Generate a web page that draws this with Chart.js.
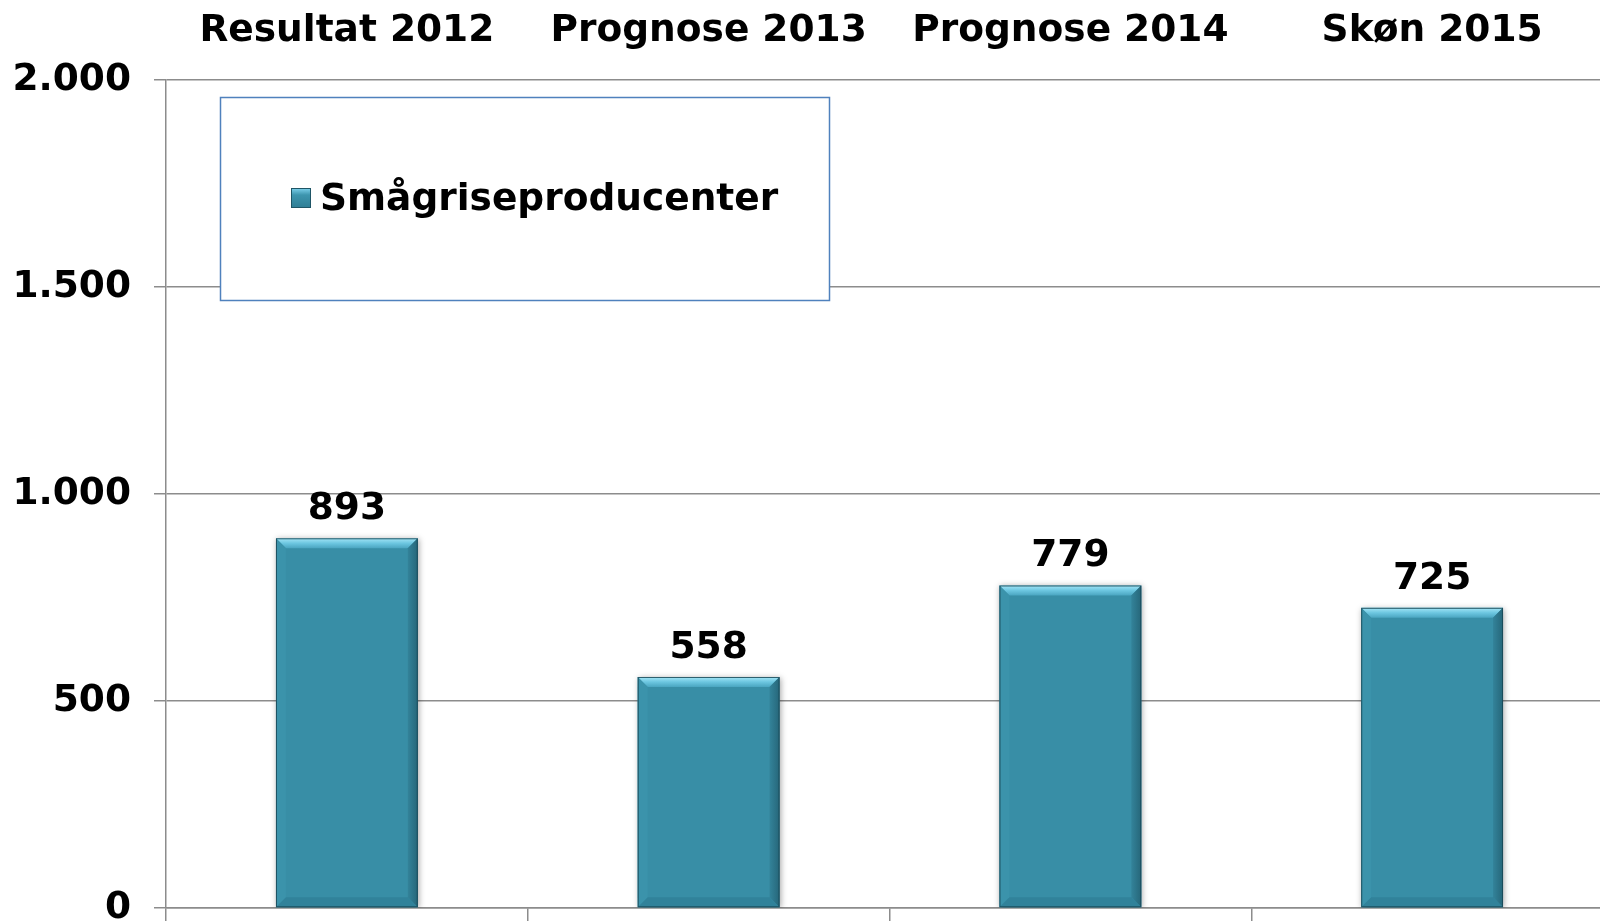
<!DOCTYPE html>
<html>
<head>
<meta charset="utf-8">
<script src="https://cdn.jsdelivr.net/npm/chart.js@4/dist/chart.umd.min.js"></script>
<style>
  html, body { margin: 0; padding: 0; background: #ffffff; overflow: hidden; width: 1600px; height: 922px; }
  #c { display: block; }
</style>
</head>
<body>
<canvas id="c" width="1620" height="922" style="width:1620px;height:922px;"></canvas>
<script>
// ---- data ----
const categories = ["Resultat 2012", "Prognose 2013", "Prognose 2014", "Skøn 2015"];
const seriesName = "Smågriseproducenter";
const values = [893, 558, 779, 725];
const yTicks = [0, 500, 1000, 1500, 2000];

const FONT = "'DejaVu Sans', Verdana, sans-serif";
const FS = 37.5;
const GRID = "#8c8c8c";
const BAR = "#388ea6";

function fmt(v) {
  return String(v).replace(/\B(?=(\d{3})+(?!\d))/g, ".");
}

const shadowPlugin = {
  id: "barShadow",
  beforeDatasetsDraw(chart) {
    const ctx = chart.ctx;
    ctx.save();
    ctx.shadowColor = "rgba(0,0,0,0.35)";
    ctx.shadowBlur = 6;
    ctx.shadowOffsetX = 1;
    ctx.shadowOffsetY = 1;
  },
  afterDatasetsDraw(chart) {
    chart.ctx.restore();
    const ctx = chart.ctx;
    const meta = chart.getDatasetMeta(0);
    meta.data.forEach((el) => {
      const w = el.width;
      const L = el.x - w / 2, R = el.x + w / 2, T = el.y, B = el.base;
      const b = 10;
      ctx.save();
      // top bevel
      let g = ctx.createLinearGradient(0, T, 0, T + b);
      g.addColorStop(0, "#a4e6f7");
      g.addColorStop(0.5, "#6cc6e0");
      g.addColorStop(1, "#4aa5c0");
      ctx.fillStyle = g;
      ctx.beginPath();
      ctx.moveTo(L, T); ctx.lineTo(R, T); ctx.lineTo(R - b, T + b); ctx.lineTo(L + b, T + b); ctx.closePath();
      ctx.fill();
      // right bevel
      g = ctx.createLinearGradient(R - b, 0, R, 0);
      g.addColorStop(0, "#33839a");
      g.addColorStop(1, "#266679");
      ctx.fillStyle = g;
      ctx.beginPath();
      ctx.moveTo(R, T); ctx.lineTo(R, B); ctx.lineTo(R - b, B - b); ctx.lineTo(R - b, T + b); ctx.closePath();
      ctx.fill();
      // left bevel
      ctx.fillStyle = "#3b93ab";
      ctx.beginPath();
      ctx.moveTo(L, T); ctx.lineTo(L + b, T + b); ctx.lineTo(L + b, B - b); ctx.lineTo(L, B); ctx.closePath();
      ctx.fill();
      // bottom bevel
      ctx.fillStyle = "#31829a";
      ctx.beginPath();
      ctx.moveTo(L, B); ctx.lineTo(L + b, B - b); ctx.lineTo(R - b, B - b); ctx.lineTo(R, B); ctx.closePath();
      ctx.fill();
      // outline
      ctx.strokeStyle = "rgba(25,70,85,0.85)";
      ctx.lineWidth = 1;
      ctx.strokeRect(L + 0.5, T + 0.5, w - 1, B - T - 1);
      ctx.restore();
    });
  }
};

const valueLabels = {
  id: "valueLabels",
  afterDraw(chart) {
    const ctx = chart.ctx;
    const meta = chart.getDatasetMeta(0);
    ctx.save();
    ctx.font = "bold " + FS + "px " + FONT;
    ctx.fillStyle = "#000";
    ctx.textAlign = "center";
    ctx.textBaseline = "alphabetic";
    meta.data.forEach((el, i) => {
      ctx.fillText(fmt(chart.data.datasets[0].data[i]), el.x, el.y - 19);
    });
    ctx.restore();
  }
};

const legendBox = {
  id: "legendBox",
  afterDraw(chart) {
    const ctx = chart.ctx;
    const a = chart.chartArea;
    const x = a.left + 54, y = a.top + 17, w = 609, h = 203;
    ctx.save();
    ctx.fillStyle = "#ffffff";
    ctx.fillRect(x, y, w, h);
    ctx.strokeStyle = "#4f81bd";
    ctx.lineWidth = 1.5;
    ctx.strokeRect(x + 0.5, y + 0.5, w, h);
    // marker
    const mx = x + 71, my = y + 91, ms = 20;
    let g = ctx.createLinearGradient(0, my, 0, my + ms);
    g.addColorStop(0, "#7fd3ee");
    g.addColorStop(0.35, "#3d95ae");
    g.addColorStop(1, "#2f7d94");
    ctx.fillStyle = g;
    ctx.fillRect(mx, my, ms, ms);
    ctx.strokeStyle = "#1f5566";
    ctx.lineWidth = 1;
    ctx.strokeRect(mx + 0.5, my + 0.5, ms - 1, ms - 1);
    ctx.font = "bold " + FS + "px " + FONT;
    ctx.fillStyle = "#000";
    ctx.textAlign = "left";
    ctx.textBaseline = "alphabetic";
    ctx.fillText(chart.data.datasets[0].label, x + 100, y + 113);
    ctx.restore();
  }
};

new Chart(document.getElementById("c"), {
  type: "bar",
  data: {
    labels: categories,
    datasets: [{
      label: seriesName,
      data: values,
      backgroundColor: BAR,
      borderWidth: 0,
      categoryPercentage: 0.392,
      barPercentage: 1.0,
      xAxisID: "x",
      yAxisID: "y"
    }]
  },
  options: {
    responsive: false,
    maintainAspectRatio: false,
    devicePixelRatio: 1,
    animation: false,
    layout: { padding: { left: 0, right: 7, top: 0, bottom: 0 } },
    plugins: {
      legend: { display: false },
      tooltip: { enabled: false },
      title: { display: false }
    },
    scales: {
      x: {
        type: "category",
        position: "bottom",
        offset: true,
        ticks: { display: false },
        grid: { display: true, drawOnChartArea: false, drawTicks: true, tickLength: 13, color: GRID, lineWidth: 1.5, offset: true },
        border: { display: true, color: GRID, width: 1.5 },
        afterFit(s) { s.height = 14; s.paddingLeft = 0; s.paddingRight = 0; }
      },
      x2: {
        type: "category",
        position: "top",
        labels: categories,
        offset: true,
        ticks: { color: "#000", font: { family: FONT, size: FS, weight: "bold" }, padding: 26, maxRotation: 0, autoSkip: false },
        grid: { display: false, drawTicks: false },
        border: { display: false },
        afterFit(s) { s.height = 80; s.paddingLeft = 0; s.paddingRight = 0; }
      },
      y: {
        min: 0,
        max: 2000,
        afterBuildTicks(s) { s.ticks = yTicks.map(v => ({ value: v })); },
        ticks: {
          color: "#000",
          font: { family: FONT, size: FS, weight: "bold" },
          padding: 23,
          callback: (v) => fmt(v)
        },
        grid: { color: GRID, lineWidth: 1.5, tickLength: 12, drawTicks: true },
        border: { display: true, color: GRID, width: 1.5 },
        afterFit(s) { s.width = 166; s.paddingTop = 0; s.paddingBottom = 0; }
      }
    }
  },
  plugins: [shadowPlugin, valueLabels, legendBox]
});
</script>
</body>
</html>
